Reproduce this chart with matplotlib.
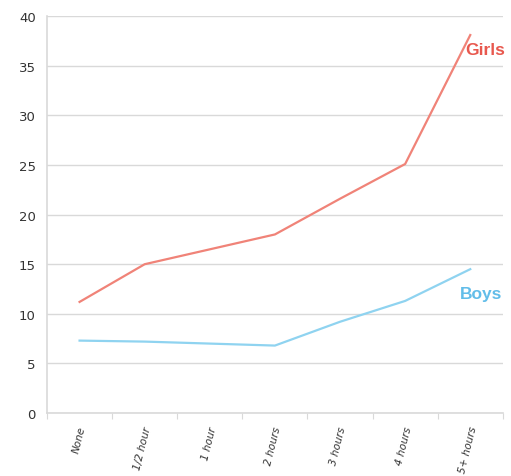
import matplotlib
matplotlib.use('Agg')
import matplotlib.pyplot as plt
import numpy as np

categories = ['None', '1/2 hour', '1 hour', '2 hours', '3 hours', '4 hours', '5+ hours']
girls = [11.2, 15.0, 16.5, 18.0, 21.6, 25.1, 38.1]
boys = [7.3, 7.2, 7.0, 6.8, 9.2, 11.3, 14.5]
yticks = np.arange(0, 41, 5)

GIRLS_COLOR = '#F08378'
BOYS_COLOR = '#8FD3F0'

fig = plt.figure(figsize=(5.11, 4.77), dpi=100)
ax = fig.add_axes([0.092, 0.132, 0.892, 0.832])

x = np.arange(len(categories))
ax.plot(x, girls, color=GIRLS_COLOR, lw=1.6)
ax.plot(x, boys, color=BOYS_COLOR, lw=1.6)

# Series labels
ax.text(5.92, 36.6, 'Girls', color='#E8584E', fontsize=12.5, fontweight='bold',
        family='Liberation Sans', ha='left', va='center')
ax.text(5.84, 12.0, 'Boys', color='#62BDE9', fontsize=12.5, fontweight='bold',
        family='Liberation Sans', ha='left', va='center')

# Axes
ax.set_xlim(-0.5, len(categories) - 0.5)
ax.set_ylim(0, 40)
ax.set_yticks(yticks)
ax.set_yticklabels([str(v) for v in yticks], fontsize=9.5, color='#333333')
ax.grid(axis='y', color='#d9d9d9', lw=1)
ax.set_axisbelow(True)

# Category ticks between categories
ax.set_xticks(np.arange(-0.5, len(categories), 1), minor=False)
ax.set_xticklabels([])
ax.tick_params(axis='x', length=4, color='#d9d9d9', direction='out')
ax.tick_params(axis='y', length=0, pad=8)
for i, c in enumerate(categories):
    ax.text(i + 0.12, -1.2, c, rotation=76, ha='right', va='top',
            fontsize=7.5, style='italic', color='#333333')

for s in ['top', 'right']:
    ax.spines[s].set_visible(False)
for s in ['left', 'bottom']:
    ax.spines[s].set_color('#d9d9d9')
    ax.spines[s].set_linewidth(1.2)

fig.savefig('out.png', dpi=100, facecolor='white')
